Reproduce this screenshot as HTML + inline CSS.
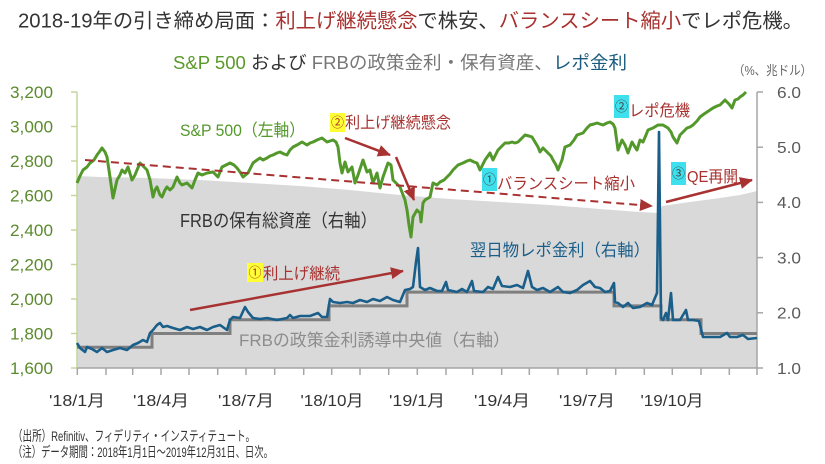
<!DOCTYPE html>
<html><head><meta charset="utf-8">
<style>
html,body{margin:0;padding:0;background:#fff;}
svg{display:block;}
text{font-family:"Liberation Sans","Noto Sans CJK JP",sans-serif;}
</style></head>
<body>
<svg width="825" height="464" viewBox="0 0 825 464" xmlns="http://www.w3.org/2000/svg">
<defs>
<marker id="ah" markerUnits="userSpaceOnUse" markerWidth="14" markerHeight="12" refX="12" refY="6" orient="auto">
<path d="M0,0 L13,6 L0,12 Z" fill="#a83232"/>
</marker>
</defs>

<!-- Title -->
<text x="18" y="27.5" font-size="20" fill="#333" textLength="785" lengthAdjust="spacingAndGlyphs">2018-19年の引き締め局面：<tspan fill="#a8312f">利上げ継続懸念</tspan>で株安、<tspan fill="#a8312f">バランスシート縮小</tspan>でレポ危機。</text>

<!-- Subtitle -->
<text x="173" y="69" font-size="18" fill="#333" textLength="454" lengthAdjust="spacingAndGlyphs"><tspan fill="#5b9a2a">S&amp;P 500</tspan> および <tspan fill="#777">FRBの政策金利・保有資産、</tspan><tspan fill="#1a5a7e">レポ金利</tspan></text>
<text x="733" y="75" font-size="13" fill="#666" textLength="79" lengthAdjust="spacingAndGlyphs">（%、兆ドル）</text>

<!-- Grey assets area -->
<path d="M77,368 L77,176 L100,177 L150,178 L200,180 L250,183 L300,186 L350,190 L400,195 L450,199 L500,202 L550,205 L600,209 L640,212 L659,213 L662,206 L690,202 L720,198 L740,195 L757,191 L757,368 Z" fill="#d9d9d9"/>

<!-- Axes -->
<line x1="77" y1="92" x2="77" y2="368" stroke="#c4d79b" stroke-width="1.5"/>
<line x1="757" y1="92" x2="757" y2="368" stroke="#a6a6a6" stroke-width="1.5"/>
<line x1="77" y1="368" x2="757" y2="368" stroke="#a6a6a6" stroke-width="1.5"/>
<g stroke="#c4d79b" stroke-width="1.5">
<line x1="71" y1="92" x2="77" y2="92"/><line x1="71" y1="126.5" x2="77" y2="126.5"/>
<line x1="71" y1="161" x2="77" y2="161"/><line x1="71" y1="195.5" x2="77" y2="195.5"/>
<line x1="71" y1="230" x2="77" y2="230"/><line x1="71" y1="264.5" x2="77" y2="264.5"/>
<line x1="71" y1="299" x2="77" y2="299"/><line x1="71" y1="333.5" x2="77" y2="333.5"/>
<line x1="71" y1="368" x2="77" y2="368"/>
</g>
<g stroke="#a6a6a6" stroke-width="1.5">
<line x1="757" y1="92" x2="763" y2="92"/><line x1="757" y1="147.2" x2="763" y2="147.2"/>
<line x1="757" y1="202.4" x2="763" y2="202.4"/><line x1="757" y1="257.6" x2="763" y2="257.6"/>
<line x1="757" y1="312.8" x2="763" y2="312.8"/><line x1="757" y1="368" x2="763" y2="368"/>
</g>
<g stroke="#a6a6a6" stroke-width="1.5">
<line x1="77.3" y1="368" x2="77.3" y2="375"/><line x1="106" y1="368" x2="106" y2="375"/>
<line x1="132.7" y1="368" x2="132.7" y2="375"/><line x1="161" y1="368" x2="161" y2="375"/>
<line x1="189" y1="368" x2="189" y2="375"/><line x1="217.7" y1="368" x2="217.7" y2="375"/>
<line x1="246" y1="368" x2="246" y2="375"/><line x1="274.7" y1="368" x2="274.7" y2="375"/>
<line x1="303.7" y1="368" x2="303.7" y2="375"/><line x1="331.7" y1="368" x2="331.7" y2="375"/>
<line x1="360" y1="368" x2="360" y2="375"/><line x1="388.7" y1="368" x2="388.7" y2="375"/>
<line x1="417.3" y1="368" x2="417.3" y2="375"/><line x1="446" y1="368" x2="446" y2="375"/>
<line x1="472.7" y1="368" x2="472.7" y2="375"/><line x1="501.7" y1="368" x2="501.7" y2="375"/>
<line x1="529.3" y1="368" x2="529.3" y2="375"/><line x1="558" y1="368" x2="558" y2="375"/>
<line x1="586.7" y1="368" x2="586.7" y2="375"/><line x1="615.7" y1="368" x2="615.7" y2="375"/>
<line x1="644.3" y1="368" x2="644.3" y2="375"/><line x1="672.3" y1="368" x2="672.3" y2="375"/>
<line x1="701" y1="368" x2="701" y2="375"/><line x1="729.3" y1="368" x2="729.3" y2="375"/>
<line x1="757" y1="368" x2="757" y2="375"/>
</g>

<!-- Left labels -->
<g font-size="17" fill="#5b8a2d" text-anchor="end">
<text x="53" y="98" textLength="43" lengthAdjust="spacingAndGlyphs">3,200</text>
<text x="53" y="132.5" textLength="43" lengthAdjust="spacingAndGlyphs">3,000</text>
<text x="53" y="167" textLength="43" lengthAdjust="spacingAndGlyphs">2,800</text>
<text x="53" y="201.5" textLength="43" lengthAdjust="spacingAndGlyphs">2,600</text>
<text x="53" y="236" textLength="43" lengthAdjust="spacingAndGlyphs">2,400</text>
<text x="53" y="270.5" textLength="43" lengthAdjust="spacingAndGlyphs">2,200</text>
<text x="53" y="305" textLength="43" lengthAdjust="spacingAndGlyphs">2,000</text>
<text x="53" y="339.5" textLength="43" lengthAdjust="spacingAndGlyphs">1,800</text>
<text x="53" y="374" textLength="43" lengthAdjust="spacingAndGlyphs">1,600</text>
</g>
<!-- Right labels -->
<g font-size="16" fill="#595959">
<text x="777" y="98" textLength="24" lengthAdjust="spacingAndGlyphs">6.0</text>
<text x="777" y="153" textLength="24" lengthAdjust="spacingAndGlyphs">5.0</text>
<text x="777" y="208" textLength="24" lengthAdjust="spacingAndGlyphs">4.0</text>
<text x="777" y="263.5" textLength="24" lengthAdjust="spacingAndGlyphs">3.0</text>
<text x="777" y="318.5" textLength="24" lengthAdjust="spacingAndGlyphs">2.0</text>
<text x="777" y="374" textLength="24" lengthAdjust="spacingAndGlyphs">1.0</text>
</g>
<!-- X labels -->
<g font-size="16" fill="#333" text-anchor="middle">
<text x="77" y="406" textLength="56" lengthAdjust="spacingAndGlyphs">'18/1月</text>
<text x="161" y="406" textLength="56" lengthAdjust="spacingAndGlyphs">'18/4月</text>
<text x="246" y="406" textLength="56" lengthAdjust="spacingAndGlyphs">'18/7月</text>
<text x="332" y="406" textLength="63" lengthAdjust="spacingAndGlyphs">'18/10月</text>
<text x="417" y="406" textLength="56" lengthAdjust="spacingAndGlyphs">'19/1月</text>
<text x="502" y="406" textLength="56" lengthAdjust="spacingAndGlyphs">'19/4月</text>
<text x="587" y="406" textLength="56" lengthAdjust="spacingAndGlyphs">'19/7月</text>
<text x="672" y="406" textLength="63" lengthAdjust="spacingAndGlyphs">'19/10月</text>
</g>

<!-- Policy rate step -->
<path d="M77,347.3 H152 V333.5 H230 V319.7 H329 V305.9 H407 V292.1 H614 V305.9 H661 V319.7 H701 V333.5 H757" fill="none" stroke="#7f7f7f" stroke-width="3"/>

<!-- Repo rate -->
<polyline fill="none" stroke="#1a5e8a" stroke-width="2.6" stroke-linejoin="round" points="77,343 80,348 85,352 87,347 92,349 97,352 102,348 107,352 113,350 120,348 127,350 133,345 138,343 143,340 147,342 150,333 153,330 157,325 160,323 163,327 167,326 173,328 180,330 187,327 193,329 200,327 207,330 213,327 220,325 227,330 230,320 233,317 240,318 245,307 248,312 253,318 260,319 267,318 277,320 287,318 290,315 293,318 300,316 310,316 318,313 322,317 327,317 330,299 333,302 340,303 347,302 353,303 360,300 367,302 373,299 380,301 387,297 393,300 400,302 405,290 410,289 413,287 416,262 418,248 420,287 425,290 430,288 437,291 442,291 446,282 448,290 457,292 462,289 467,292 472,281 474,291 483,292 488,287 493,289 498,277 502,286 510,287 517,285 523,288 528,271 532,287 537,290 543,288 550,292 558,287 563,292 570,293 577,290 583,285 590,281 595,287 600,288 605,292 610,291 614,283 615,302 618,303 623,307 628,303 633,308 640,307 647,303 652,305 657,293 659,132 661,318 663,320 666,313 668,320 671,293 673,320 680,320 686,310 688,320 693,320 699,321 703,337 710,337 720,337 727,333 730,337 737,337 743,335 748,339 757,338"/>

<!-- S&P 500 -->
<polyline fill="none" stroke="#53982a" stroke-width="3" stroke-linejoin="round" points="77,183 80,176 83,170 87,167 90,163 94,160 97,155 100,151 102,148 105,152 107,157 110,177 113,198 117,180 120,175 122,170 125,173 128,167 132,180 135,175 137,170 140,163 144,167 147,170 150,180 153,197 155,190 157,187 160,195 162,197 165,190 167,187 170,190 173,187 177,177 180,183 182,185 187,183 190,186 192,188 195,180 198,173 202,175 207,173 213,172 218,177 222,167 226,165 230,163 234,165 237,168 240,172 243,177 248,173 253,163 257,160 260,158 263,160 267,158 270,156 273,155 277,153 280,152 284,154 287,155 290,150 293,147 297,145 302,142 307,145 310,143 313,142 317,140 322,138 327,142 330,141 333,140 336,142 338,147 340,163 342,173 345,162 348,172 352,167 355,183 358,175 363,160 367,172 370,170 373,183 377,173 380,188 383,177 388,163 391,165 393,180 397,184 400,187 405,200 407,210 409,225 411,237 413,217 417,210 420,213 421,222 423,203 425,200 430,197 433,183 437,185 440,182 444,180 447,177 450,174 453,170 458,165 463,163 467,161 470,160 474,162 477,163 480,170 485,160 490,153 493,160 498,150 502,146 505,143 509,143 512,142 515,143 518,142 522,138 525,135 529,136 532,137 535,142 538,147 540,152 543,148 548,153 551,156 553,160 556,165 558,170 562,160 565,147 570,145 574,140 577,135 580,134 583,133 587,128 590,125 594,124 597,123 600,124 603,125 607,123 610,122 613,124 615,128 618,150 622,140 625,145 628,153 632,142 635,147 637,150 640,140 643,142 646,135 648,130 653,128 658,125 663,125 668,128 671,132 673,137 677,143 680,135 684,131 687,128 690,127 693,125 697,121 700,117 704,114 707,112 710,110 713,108 717,106 720,105 723,102 725,100 729,104 732,108 735,100 738,99 740,97 743,95 746,92"/>

<!-- Dashed arrow -->
<line x1="85" y1="160" x2="652" y2="206" stroke="#a83232" stroke-width="2" stroke-dasharray="8 5" marker-end="url(#ah)"/>
<!-- Arrows -->
<line x1="190" y1="310" x2="403" y2="271" stroke="#a83232" stroke-width="2.5" marker-end="url(#ah)"/>
<line x1="345" y1="138" x2="390" y2="155" stroke="#a83232" stroke-width="2.5" marker-end="url(#ah)"/>
<line x1="396" y1="157" x2="414" y2="200" stroke="#a83232" stroke-width="2.5" marker-end="url(#ah)"/>
<line x1="666" y1="202" x2="752" y2="180" stroke="#a83232" stroke-width="2.5" marker-end="url(#ah)"/>

<!-- Annotations -->
<text x="180" y="136" font-size="17" fill="#53982a" textLength="125" lengthAdjust="spacingAndGlyphs">S&amp;P 500（左軸）</text>

<rect x="330" y="113" width="15" height="19" fill="#ffff33"/>
<text x="337.5" y="127" font-size="13" fill="#a8312f" text-anchor="middle">②</text>
<text x="345" y="128" font-size="16" fill="#a8312f" textLength="106" lengthAdjust="spacingAndGlyphs">利上げ継続懸念</text>

<text x="180" y="227" font-size="18" fill="#333" textLength="197" lengthAdjust="spacingAndGlyphs">FRBの保有総資産（右軸）</text>

<rect x="482" y="168" width="15" height="23" fill="#3ee0ee"/>
<text x="489.5" y="184" font-size="13" fill="#444" text-anchor="middle">①</text>
<text x="497" y="189" font-size="16" fill="#a8312f" textLength="138" lengthAdjust="spacingAndGlyphs">バランスシート縮小</text>

<rect x="614" y="95" width="15" height="23" fill="#3ee0ee"/>
<text x="621.5" y="111" font-size="13" fill="#444" text-anchor="middle">②</text>
<text x="629" y="116" font-size="16" fill="#a8312f" textLength="61" lengthAdjust="spacingAndGlyphs">レポ危機</text>

<rect x="671" y="162" width="15" height="23" fill="#3ee0ee"/>
<text x="678.5" y="178" font-size="13" fill="#444" text-anchor="middle">③</text>
<text x="687" y="182" font-size="16" fill="#a8312f" textLength="51" lengthAdjust="spacingAndGlyphs">QE再開</text>

<text x="470" y="256" font-size="17" fill="#1a5e8a" textLength="180" lengthAdjust="spacingAndGlyphs">翌日物レポ金利（右軸）</text>

<rect x="247" y="263" width="16" height="19" fill="#ffff33"/>
<text x="255" y="277" font-size="13" fill="#a8312f" text-anchor="middle">①</text>
<text x="263" y="279" font-size="16" fill="#a8312f" textLength="77" lengthAdjust="spacingAndGlyphs">利上げ継続</text>

<text x="239" y="346" font-size="17" fill="#8c8c8c" textLength="271" lengthAdjust="spacingAndGlyphs">FRBの政策金利誘導中央値（右軸）</text>

<!-- Footnotes -->
<text x="13" y="441" font-size="14" fill="#333" textLength="242" lengthAdjust="spacingAndGlyphs">（出所）Refinitiv、フィデリティ・インスティテュート。</text>
<text x="13" y="457" font-size="14" fill="#333" textLength="260" lengthAdjust="spacingAndGlyphs">（注）データ期間：2018年1月1日～2019年12月31日、日次。</text>
</svg>
</body></html>
